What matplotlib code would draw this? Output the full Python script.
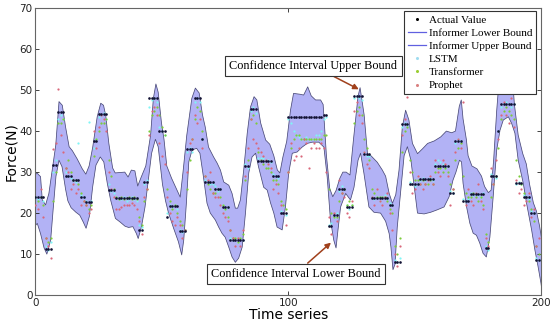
import numpy as np
import matplotlib
matplotlib.use('Agg')
import matplotlib.pyplot as plt

# actual force values, one per time step (0..199)
actual = [
    24, 24, 24, 24, 11.2, 11.2, 11.2, 31.7, 31.7, 44.6,
    44.6, 44.6, 29, 29, 29, 28, 28, 28, 24, 24,
    22.7, 22.7, 22.7, 37.5, 37.5, 44.2, 44.2, 44.2, 44.2, 25.6,
    25.6, 25.6, 23.6, 23.6, 23.6, 23.6, 23.6, 23.6, 23.6, 23.6,
    23.6, 16, 16, 27.5, 27.5, 48, 48, 48, 48, 40,
    40, 40, 19, 21.7, 21.7, 21.7, 21.7, 15.6, 15.6, 15.6,
    35.6, 35.6, 35.6, 48, 48, 48, 38, 27.6, 27.6, 27.6,
    27.6, 26, 26, 26, 21.5, 21.5, 21.5, 13.5, 13.5, 13.5,
    13.5, 13.5, 13.5, 31.5, 31.5, 45.5, 45.5, 45.5, 32.7, 32.7,
    32.7, 32.7, 32.7, 32.7, 29, 29, 29, 20, 20, 20,
    43.5, 43.5, 43.5, 43.5, 43.5, 43.5, 43.5, 43.5, 43.5, 43.5,
    43.5, 43.5, 43.5, 43.5, 44, 44, 16.8, 16.8, 19.5, 19.5,
    26, 26, 26, 21.6, 21.6, 21.6, 48.5, 48.5, 48.5, 48.5,
    34.5, 34.5, 34.5, 23.7, 23.7, 23.7, 23.7, 23.7, 23.7, 23.7,
    22, 22, 8, 8, 8, 41.7, 41.7, 41.7, 27, 27,
    27, 27, 28.3, 28.3, 28.3, 28.3, 28.3, 28.3, 31.5, 31.5,
    31.5, 31.5, 31.5, 31.5, 25, 25, 37.5, 37.5, 37.5, 23,
    23, 23, 24.7, 24.7, 24.7, 24.7, 24.7, 24.7, 11.5, 11.5,
    29, 29, 29, 40, 46.7, 46.7, 46.7, 46.7, 46.7, 46.7,
    27.3, 27.3, 27.3, 24, 24, 24, 20, 20, 8.5, 8.5,
]

lstm = [
    24, 23.5, 24, 23, 12, 11, 13, 30, 33, 43,
    44, 43, 30, 29, 28.5, 28, 27.5, 37, 24.5, 24,
    23, 42.2, 23, 36, 38, 43.5, 44, 44.5, 43, 27,
    25.5, 25, 24, 23.5, 23.5, 24, 23, 23.5, 24, 23.5,
    23, 17, 16.5, 27, 28, 46, 47.5, 48, 47, 41,
    40, 39, 20, 22, 21.5, 22, 21, 16, 15.5, 16,
    35, 36, 35, 47, 48, 47, 38, 28, 27.5, 27,
    27, 26.5, 25.5, 26, 22, 21, 21.5, 14, 13.5, 14,
    13, 14, 13.5, 32, 31, 45, 46, 44.5, 33.5, 33.5,
    33.5, 33, 33, 32.5, 29.5, 29, 28.5, 20.5, 20, 19.5,
    43, 42, 40, 39, 38.5, 38, 38, 38.5, 38, 38,
    38, 39, 39, 40, 43, 43.5, 17, 17.5, 19, 20,
    25.5, 26.5, 26, 22, 21, 22, 48, 48.5, 48, 47.5,
    35, 34, 34, 24, 23.5, 24, 23, 24, 24.5, 23.5,
    22.5, 22, 8.5, 8, 9, 41, 42, 41.5, 27.5, 27,
    26.5, 27, 28, 28.5, 28, 28.3, 28.5, 28, 32, 33,
    32.5, 32, 31, 31.5, 25.5, 25, 37, 38, 37.5, 23.5,
    23, 23.5, 25, 24.5, 25, 24.5, 24, 25, 12, 11,
    29.5, 29, 28.5, 40, 46, 46.5, 47, 46.5, 46, 46.5,
    27, 27.5, 27, 24.5, 24, 23.5, 20.5, 20, 9, 8.5,
]

transformer = [
    24, 23, 24, 22, 14, 13, 14, 23, 30, 42,
    42, 43, 31, 33, 30, 28, 28, 27, 25, 23,
    22, 21, 22, 34, 38, 40, 42, 42, 43, 33,
    29, 26, 24, 23.5, 24, 23.5, 23.6, 24, 23.5, 24,
    23.5, 19, 17, 23, 26, 40, 44, 45, 46, 44,
    41, 39, 26, 23, 21, 22, 20, 18, 17, 16,
    26, 33, 38, 43, 46, 45, 40, 29, 27, 26,
    25, 25, 26, 24, 22, 21, 19, 16, 14, 14,
    13, 14, 15, 28, 33, 43, 44, 42, 35, 33,
    32, 31, 31, 30, 28, 28, 27, 23, 22, 21,
    30, 36, 38, 39, 39, 38, 38, 38, 38, 38,
    38, 38, 38, 38, 39, 39, 26, 20, 19, 19,
    23, 25, 26, 22, 23, 22, 42, 45, 46, 44,
    38, 36, 33, 26, 25, 24, 24, 24, 24, 23,
    21, 20, 12, 10, 14, 35, 40, 41, 33, 30,
    28, 28, 27, 28, 27, 27, 28, 27, 30, 31,
    31, 30, 31, 30, 27, 26, 33, 36, 37, 29,
    25, 24, 24, 25, 24, 23, 24, 22, 15, 13,
    24, 27, 29, 36, 43, 45, 46, 45, 44, 43,
    33, 29, 27, 25, 24, 23, 21, 18, 12, 10,
]

prophet = [
    22, 21, 26, 19, 14, 12, 9, 35.6, 37, 50.3,
    39, 35, 31, 30, 26, 27, 25, 26, 22, 23,
    22, 20, 21, 40, 36, 41, 44, 43, 40, 30,
    26, 24, 21, 21, 21.5, 22, 22, 22, 22.5, 22,
    21, 18, 15, 24, 26, 39, 45, 46, 44, 37,
    34, 32, 24, 20, 18, 17, 19, 17, 14, 16,
    30, 37, 38, 44, 42, 43, 36, 29, 28, 30,
    25, 24, 24, 22, 20, 19, 18, 16, 14, 12,
    14, 12, 16, 29, 36, 43, 38, 37, 36, 35,
    34, 33, 32, 31, 26, 27, 25, 22, 20, 17,
    30, 37, 33, 34, 36, 34, 38, 37, 31, 36,
    37, 36, 36, 37, 36, 30, 19, 15, 20, 18,
    28, 25, 24, 20, 19, 23, 45, 47, 44, 42,
    35, 32, 31, 24, 22, 26, 23, 22, 24, 25,
    20, 16, 10, 7, 12, 39, 43, 48.4, 30, 25,
    26, 29, 27, 26, 27, 28, 29, 27, 33, 30,
    29, 33, 32, 29, 22, 26, 35, 38, 36, 47,
    22, 26, 23, 22, 25, 27, 23, 21, 14, 12,
    31, 27, 33, 38, 44, 47, 44, 42, 48, 41,
    28, 25, 26, 22, 23, 25, 19, 21, 12, 14,
]

# Informer confidence band as (time, value) knots
upper_t = [0, 0.7, 2, 2.7, 4, 5.3, 6.6, 8, 9.3, 10.6, 11.9, 13.3, 14.6, 16.5, 18.5,
           19.9, 21.2, 22.6, 24.4, 25.8, 26.9, 27.8, 29, 30.5, 31.5, 33.5, 35.3, 36.6,
           37.9, 39.3, 40.4, 41.8, 43.6, 45.5, 46.6, 47.6, 48.5, 49.8, 50.8, 51.9, 53.8,
           55.8, 57.2, 58.4, 59.8, 61.8, 63.2, 64.7, 66, 67.1, 68.4, 70.4, 71.8, 73.1,
           74.4, 76.4, 77.7, 79, 79.9, 81, 82.3, 83.7, 85, 86.4, 87.5, 89, 91, 92.6,
           94.2, 95.6, 96.6, 97.8, 99.3, 100.8, 102, 104.5, 106, 107.6, 109, 110.7,
           112.7, 113.7, 115, 116.3, 117.5, 118.8, 120.3, 121.5, 122.8, 124.3, 125.7,
           127.5, 128.3, 129.9, 131.3, 132.6, 135.1, 137.1, 138.4, 139.8, 141.1, 142.4,
           143.7, 145, 146.3, 147.6, 149, 151, 153, 155, 157.6, 160.2, 162.4, 164.5,
           166, 167.5, 168.3, 169, 170.3, 171, 172.5, 174.5, 176.3, 177.5, 179, 180.1,
           181.1, 182.3, 183.2, 184.5, 186.5, 188.3, 189.3, 190.8, 192.6, 194, 195.3,
           196.8, 198, 199.2, 200]
upper_v = [29.5, 29.7, 28.9, 23.2, 22, 24.8, 30.5, 36.5, 47.2, 46.3, 41, 36.2, 35.2, 33.2,
           30.8, 29.5, 31.5, 36, 43.5, 46.8, 46.3, 43.7, 37, 31, 29.8, 29.9, 30, 28.8,
           30.5, 30.3, 26.6, 28.8, 31.5, 39, 48, 51.5, 49.5, 42, 38, 31.5, 28.5, 25.8,
           23.9, 30.5, 39, 48, 50.5, 49.3, 44, 41, 36.1, 33.7, 32.2, 30.5, 27.6, 26.8,
           24.8, 21.2, 21.2, 23.2, 30.5, 39.5, 45.9, 48.4, 47.6, 42, 37.8, 36.8, 34,
           30.5, 29.8, 33.7, 37.5, 45.1, 49.2, 49, 48.8, 50.8, 48.6, 47.6, 47.6, 46.5,
           34, 26, 24, 25.5, 28.5, 30, 30, 29.3, 38, 48.5, 50.6, 44, 34, 34, 32.4, 30.5,
           29, 24.8, 22.4, 24.5, 30.5, 41, 45.1, 42.7, 37, 34.5, 35.7, 37, 37.6, 38.6,
           40, 39.6, 40, 46, 47.6, 43, 38, 34, 31.5, 30.8, 29, 26.5, 25, 25.6, 33, 45,
           52, 56, 58, 55, 46.5, 39, 34.5, 32, 27, 22.5, 20.5, 17, 14]

lower_t = [0, 0.7, 2, 3.4, 4.5, 6, 7, 8.1, 9.3, 10.5, 11.9, 12.8, 14.1, 16, 17.5, 18.9,
           20, 21.3, 22.6, 23.9, 25.6, 27, 28.4, 29.7, 31.6, 33.5, 35.4, 36.8, 38.5,
           39.9, 40.6, 41.9, 43.3, 44.6, 45.9, 47.4, 48.5, 50.2, 51.4, 52.6, 54.6, 56.5,
           57.8, 58.6, 59.6, 60.6, 61.9, 63.7, 65, 66.4, 67.8, 69.1, 71.1, 72.4, 73.7,
           75, 76.4, 77.7, 79, 80.3, 81.7, 83, 84.3, 85.6, 87, 88.2, 90.2, 91.6, 92.9,
           94.2, 95.5, 97.5, 98.8, 100.1, 101.5, 103.4, 105.4, 107.4, 109.4, 112, 114,
           115.3, 116.6, 117.9, 118.8, 119.5, 120.6, 122.6, 124.5, 125.9, 127.5, 128.5,
           129.8, 131.8, 133.8, 136.4, 138.4, 139.8, 140.5, 141.3, 142.1, 143, 144.4,
           145.7, 147, 148.4, 149.7, 151, 153.6, 156.2, 158.8, 161.5, 163.5, 165, 166.2,
           167.6, 168.4, 169, 170.4, 171.7, 173, 174.3, 175.6, 176.9, 178.2, 179.6,
           180.9, 182.3, 183.6, 184.9, 186.9, 188.2, 189.5, 190.8, 192.8, 194.1, 196.1,
           197.4, 198.7, 199.8, 200]
lower_v = [17, 17.5, 15, 11.5, 10, 13.4, 21, 29, 32.9, 31.3, 25.8, 23, 21.3, 20.2, 19.5,
           17.8, 16.3, 19.2, 26.4, 31.7, 33.7, 32.5, 27.2, 23.2, 18.7, 17.8, 16.8, 16.5,
           16.7, 15, 13.8, 16.7, 21.5, 28, 34.6, 38, 36.2, 27, 23, 20, 16.3, 13, 9.8,
           13.4, 22, 32.5, 35.4, 35.8, 34.6, 28.8, 22.4, 20, 18.3, 16.6, 15.1, 14.1,
           11.7, 9.3, 8, 9, 11.7, 20, 29.8, 33.7, 34.6, 31.2, 26.3, 25.6, 22.5, 20,
           16.6, 15.9, 21.5, 29.8, 34.6, 34.9, 36.1, 37, 37.3, 37.3, 36.1, 28.8, 18.3,
           13.4, 11.5, 15.5, 21.5, 24.8, 23.2, 26.3, 32.9, 34.6, 29.8, 21.5, 20.2, 20,
           18, 15, 11.7, 6.2, 7.5, 16.6, 25.5, 34, 36.2, 32.9, 26.4, 20, 19.8, 20.2,
           20.8, 21.5, 24, 28, 30, 32.9, 32.5, 27.3, 21.5, 17.5, 15.1, 14.6, 12.7,
           10.2, 9.3, 14.1, 23.9, 35.4, 40.2, 42.7, 43.5, 41.9, 39.5, 32.9, 27.3, 22.4,
           15.9, 11, 6.8, 2.9, 2]

t = np.arange(len(actual))

fig = plt.figure(figsize=(5.5, 3.25), dpi=100)
ax = fig.add_axes([0.0645, 0.092, 0.92, 0.883])

band_x = np.concatenate([upper_t, lower_t[::-1]])
band_y = np.concatenate([upper_v, lower_v[::-1]])
ax.fill(band_x, band_y, color='#b2b2f5', lw=0, zorder=1)
ax.plot(lower_t, lower_v, color='#4a4a78', lw=0.55, zorder=2)
ax.plot(upper_t, upper_v, color='#4a4a78', lw=0.55, zorder=2)

ax.plot(t, lstm, ls='none', marker='o', ms=1.6, mew=0, color='#7ff5f5', zorder=3)
ax.plot(t, transformer, ls='none', marker='o', ms=1.6, mew=0, color='#7ccc3c', zorder=4)
ax.plot(t, prophet, ls='none', marker='o', ms=1.6, mew=0, color='#d9677a', zorder=5)
ax.plot(t, actual, ls='none', marker='o', ms=1.9, mew=0, color='#111133', zorder=6)

# legend handles
h_act, = ax.plot([], [], ls='none', marker='o', ms=2.2, mew=0, color='black')
h_lo, = ax.plot([], [], color='#6060e0', lw=0.9)
h_up, = ax.plot([], [], color='#6060e0', lw=0.9)
h_lstm, = ax.plot([], [], ls='none', marker='o', ms=2.2, mew=0, color='#9fdcf0')
h_tr, = ax.plot([], [], ls='none', marker='o', ms=2.2, mew=0, color='#9acd32')
h_pr, = ax.plot([], [], ls='none', marker='o', ms=2.2, mew=0, color='#d98080')
leg = ax.legend([h_act, h_lo, h_up, h_lstm, h_tr, h_pr],
                ['Actual Value', 'Informer Lower Bound', 'Informer Upper Bound',
                 'LSTM', 'Transformer', 'Prophet'],
                loc='upper right', bbox_to_anchor=(0.9935, 0.997),
                prop={'family': 'Liberation Serif', 'size': 8},
                fancybox=False, framealpha=1, edgecolor='#333333',
                handlelength=1.6, handletextpad=0.25, labelspacing=0.3,
                borderpad=0.35, borderaxespad=0.2)
leg.get_frame().set_linewidth(0.8)
leg.set_zorder(10)

box = dict(boxstyle='square,pad=0.35', fc='white', ec='#333333', lw=0.8)
arrow = dict(arrowstyle='-|>', color='#a0401c', lw=1.1, mutation_scale=8,
             shrinkA=0, shrinkB=0)
ax.annotate('Confidence Interval Upper Bound', xy=(127.8, 50.2), xytext=(109.8, 55.9),
            ha='center', va='center', family='Liberation Serif', fontsize=8.8,
            bbox=box, arrowprops=arrow, zorder=9)
ax.annotate('Confidence Interval Lower Bound', xy=(116.8, 12.8), xytext=(102.8, 5.2),
            ha='center', va='center', family='Liberation Serif', fontsize=8.8,
            bbox=box, arrowprops=arrow, zorder=9)

ax.set_xlim(0, 200)
ax.set_ylim(0, 70)
ax.set_xticks([0, 100, 200])
ax.set_yticks(np.arange(0, 71, 10))
ax.tick_params(direction='in', top=True, right=True, length=3, width=0.6,
               labelsize=7.5, colors='#222222', pad=2)
for s in ax.spines.values():
    s.set_color('#666666')
    s.set_linewidth(0.8)
ax.set_xlabel('Time series', fontsize=10, labelpad=0)
ax.set_ylabel('Force(N)', fontsize=10, labelpad=1)

fig.savefig('out.png', dpi=100)
